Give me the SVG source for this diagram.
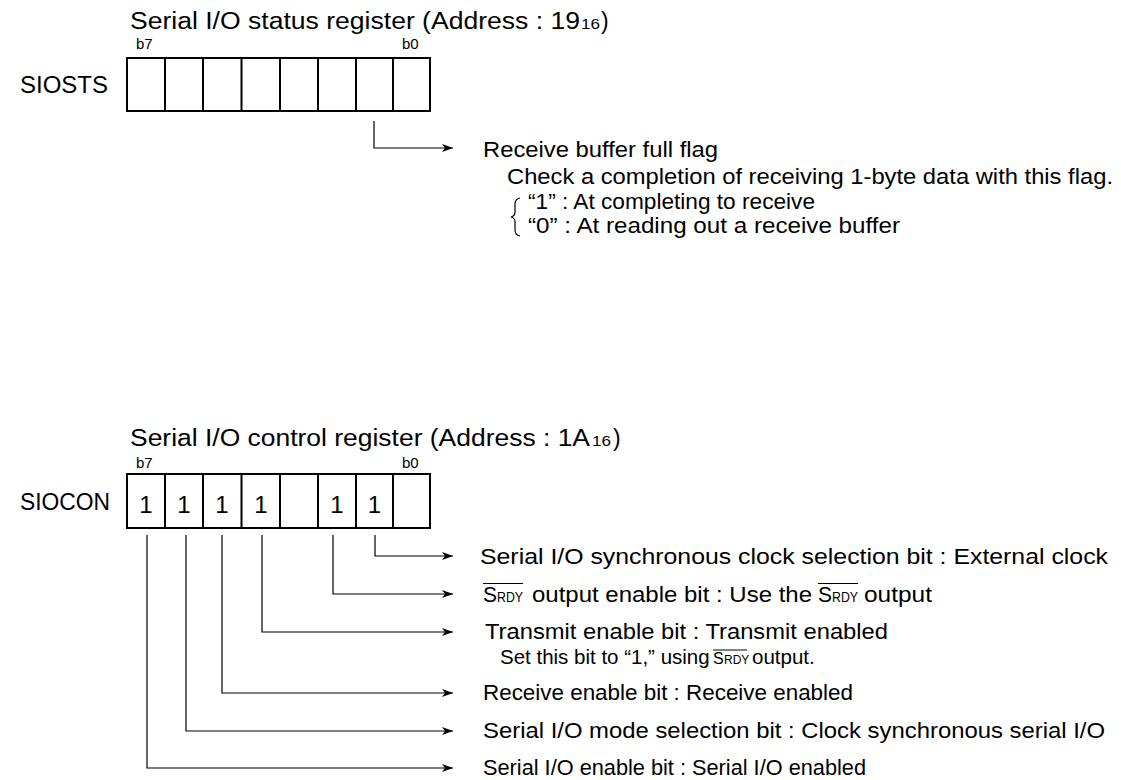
<svg xmlns="http://www.w3.org/2000/svg" width="1121" height="780" viewBox="0 0 1121 780">
<style>
text{font-family:"Liberation Sans",Arial,Helvetica,sans-serif;fill:#000}
.t{font-size:23px}
.b{font-size:15px}
.d{font-size:22px}
.s{font-size:20.5px}
.g{font-size:24px;text-anchor:middle}
.box{fill:#fff;stroke:#000;stroke-width:2}
.cell{stroke:#000;stroke-width:2}
.c{fill:none;stroke:#000;stroke-width:1.2}
.ov{stroke:#000;stroke-width:1}
</style>
<defs>
<marker id="ah" markerUnits="userSpaceOnUse" markerWidth="12" markerHeight="8" refX="11" refY="4" orient="auto">
<path d="M0,0 L11,4 L0,8 L3,4 z" fill="#000"/>
</marker>
</defs>
<rect width="1121" height="780" fill="#fff"/>

<g id="siosts">
<text class="t" x="130" y="29" textLength="450" lengthAdjust="spacingAndGlyphs">Serial I/O status register (Address : 19</text>
<text class="b" x="581" y="29" textLength="19" lengthAdjust="spacingAndGlyphs">16</text>
<text class="t" x="601" y="29">)</text>
<text class="b" x="136" y="49">b7</text>
<text class="b" x="402" y="49">b0</text>
<text class="t" x="20" y="93" textLength="88" lengthAdjust="spacingAndGlyphs">SIOSTS</text>
<rect class="box" x="127" y="58" width="303" height="53"/>
<path class="cell" d="M165,58V111M203,58V111M241.5,58V111M280,58V111M318,58V111M356,58V111M393,58V111"/>
</g>

<g id="siocon">
<text class="t" x="130" y="446" textLength="460" lengthAdjust="spacingAndGlyphs">Serial I/O control register (Address : 1A</text>
<text class="b" x="592" y="446" textLength="19" lengthAdjust="spacingAndGlyphs">16</text>
<text class="t" x="613" y="446">)</text>
<text class="b" x="136" y="468">b7</text>
<text class="b" x="402" y="468">b0</text>
<text class="t" x="20" y="510" textLength="90" lengthAdjust="spacingAndGlyphs">SIOCON</text>
<rect class="box" x="127" y="474" width="303" height="54"/>
<path class="cell" d="M165,474V528M203,474V528M241.5,474V528M280,474V528M318,474V528M356,474V528M393,474V528"/>
<text class="g" x="146" y="513">1</text>
<text class="g" x="184" y="513">1</text>
<text class="g" x="222" y="513">1</text>
<text class="g" x="261" y="513">1</text>
<text class="g" x="337" y="513">1</text>
<text class="g" x="374.5" y="513">1</text>
</g>

<g id="connectors">
<path class="c" d="M374,121V148H453" marker-end="url(#ah)"/>
<path class="c" d="M375,535V556H453" marker-end="url(#ah)"/>
<path class="c" d="M333,535V594H453" marker-end="url(#ah)"/>
<path class="c" d="M262,535V632H453" marker-end="url(#ah)"/>
<path class="c" d="M222,535V693H453" marker-end="url(#ah)"/>
<path class="c" d="M186,535V731H453" marker-end="url(#ah)"/>
<path class="c" d="M147,535V768H453" marker-end="url(#ah)"/>
</g>

<g id="rbf-label">
<text class="d" x="483" y="157" textLength="235" lengthAdjust="spacingAndGlyphs">Receive buffer full flag</text>
<text class="d" x="507" y="184" textLength="606" lengthAdjust="spacingAndGlyphs">Check a completion of receiving 1-byte data with this flag.</text>
<path class="c" d="M520,198 Q515,199 515,204 V212 Q515,216 511,217 Q515,218 515,222 V230 Q515,235 520,236"/>
<text class="d" x="528" y="209" textLength="287" lengthAdjust="spacingAndGlyphs">“1” : At completing to receive</text>
<text class="d" x="528" y="233" textLength="372" lengthAdjust="spacingAndGlyphs">“0” : At reading out a receive buffer</text>
</g>

<g id="b0-label">
<text class="d" x="480" y="564" textLength="628" lengthAdjust="spacingAndGlyphs">Serial I/O synchronous clock selection bit : External clock</text>
</g>

<g id="b1-label">
<text class="d" x="483" y="602" textLength="14" lengthAdjust="spacingAndGlyphs">S</text>
<text x="497" y="602" textLength="26" lengthAdjust="spacingAndGlyphs" style="font-size:14px">RDY</text>
<line class="ov" x1="483" y1="583.5" x2="523" y2="583.5"/>
<text class="d" x="532" y="602" textLength="280" lengthAdjust="spacingAndGlyphs">output enable bit : Use the</text>
<text class="d" x="818" y="602" textLength="14" lengthAdjust="spacingAndGlyphs">S</text>
<text x="832" y="602" textLength="26" lengthAdjust="spacingAndGlyphs" style="font-size:14px">RDY</text>
<line class="ov" x1="818" y1="583.5" x2="858" y2="583.5"/>
<text class="d" x="864" y="602" textLength="68" lengthAdjust="spacingAndGlyphs">output</text>
</g>

<g id="b3-label">
<text class="d" x="485" y="639" textLength="403" lengthAdjust="spacingAndGlyphs">Transmit enable bit : Transmit enabled</text>
<text class="s" x="500" y="664">Set this bit to “1,” using</text>
<text x="713" y="664" style="font-size:16px">S</text>
<text x="724" y="664" style="font-size:12px">RDY</text>
<line class="ov" x1="713" y1="650" x2="747" y2="650"/>
<text class="s" x="752" y="664">output.</text>
</g>

<g id="b4-label">
<text class="d" x="483" y="700" textLength="370" lengthAdjust="spacingAndGlyphs">Receive enable bit : Receive enabled</text>
</g>

<g id="b5-label">
<text class="d" x="483" y="738" textLength="622" lengthAdjust="spacingAndGlyphs">Serial I/O mode selection bit : Clock synchronous serial I/O</text>
</g>

<g id="b6-label">
<text class="d" x="483" y="775" textLength="383" lengthAdjust="spacingAndGlyphs">Serial I/O enable bit : Serial I/O enabled</text>
</g>
</svg>
